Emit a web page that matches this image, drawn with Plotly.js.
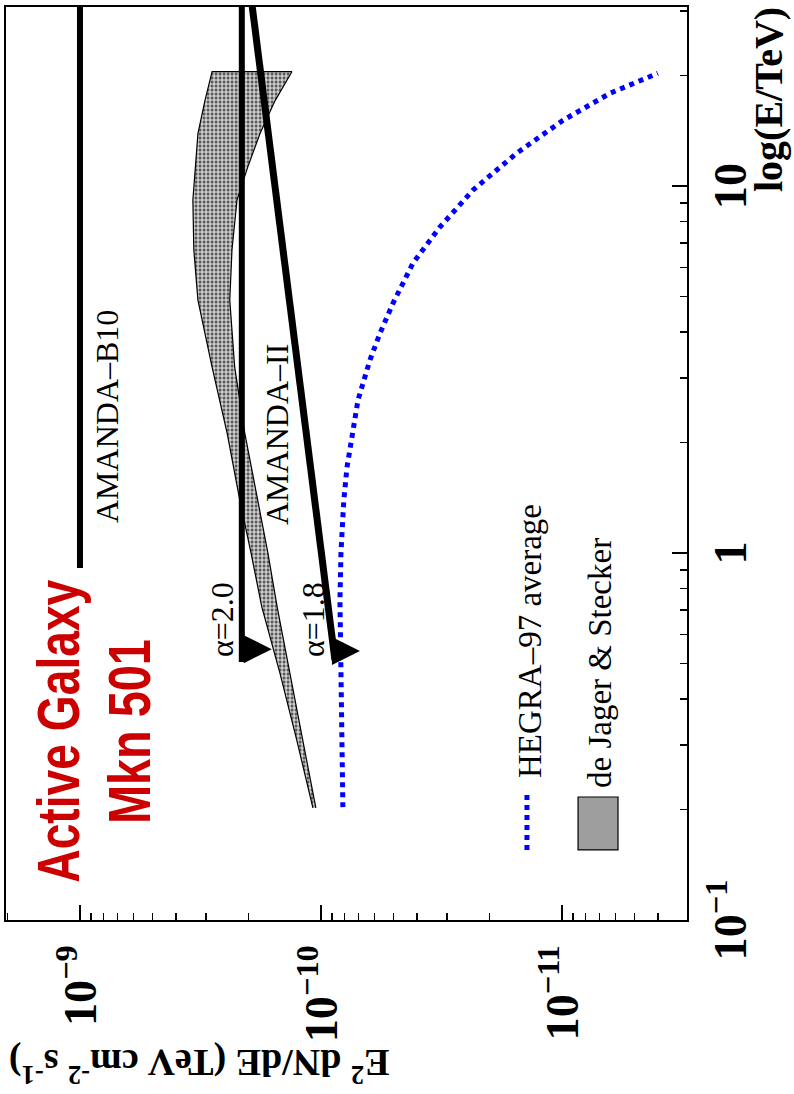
<!DOCTYPE html>
<html>
<head>
<meta charset="utf-8">
<script src="https://cdn.plot.ly/plotly-3.0.1.min.js"></script>
<style>
  html, body { margin: 0; padding: 0; background: #fff; }
  #page { position: absolute; left: 0; top: 0; width: 794px; height: 1094px; overflow: hidden; background: #fff; }
  /* the figure is laid out landscape and turned a quarter turn onto the portrait page */
  #chart { position: absolute; left: 0; top: 0; width: 1094px; height: 794px;
           transform-origin: 0 0; transform: translate(0px, 1094px) rotate(-90deg); }
</style>
</head>
<body>
<div id="page"><div id="chart"></div></div>
<script>
// Energies in TeV, fluxes as E^2 dN/dE in TeV cm^-2 s^-1

// AMANDA-B10 limit
const amandaB10E = [0.91, 31];
const amandaB10Flux = [1.0e-9, 1.0e-9];

// AMANDA-II sensitivity, spectral index 2.0
const alpha20E = [0.505, 31];
const alpha20Flux = [2.13e-10, 2.13e-10];

// AMANDA-II sensitivity, spectral index 1.8
const alpha18E = [0.511, 31];
const alpha18Flux = [8.75e-11, 1.93e-10];

// upper-limit arrow tips (alpha=2.0, alpha=1.8)
const limitE = [0.547, 0.541];
const limitFlux = [1.60e-10, 6.89e-11];

// HEGRA-97 average spectrum
const hegraE = [0.203, 0.273, 0.397, 0.541, 0.745, 1.0, 1.39, 1.71, 2.06, 2.61,
                3.36, 3.97, 4.80, 6.17, 7.73, 9.75, 12.3, 15.1, 17.9, 20.3];
const hegraFlux = [8.11e-11, 8.18e-11, 8.26e-11, 8.34e-11, 8.34e-11, 8.26e-11, 8.04e-11, 7.80e-11, 7.43e-11, 7.02e-11,
                   6.26e-11, 5.69e-11, 5.02e-11, 4.15e-11, 3.21e-11, 2.34e-11, 1.54e-11, 9.91e-12, 6.32e-12, 4.00e-12];

// de Jager & Stecker band
const deJagerE = [0.202, 0.309, 0.471, 0.713, 1.0, 1.39, 2.12, 3.21, 4.89, 6.7, 9.16, 11.3, 13.9, 17.1, 20.5];
const deJagerUpper = [1.08e-10, 1.26e-10, 1.48e-10, 1.76e-10, 1.95e-10, 2.17e-10, 2.45e-10, 2.83e-10,
                      3.24e-10, 3.37e-10, 3.40e-10, 3.33e-10, 3.24e-10, 3.03e-10, 2.83e-10];
const deJagerLower = [1.05e-10, 1.19e-10, 1.35e-10, 1.52e-10, 1.66e-10, 1.83e-10, 2.07e-10, 2.28e-10,
                      2.39e-10, 2.34e-10, 2.23e-10, 2.01e-10, 1.79e-10, 1.55e-10, 1.32e-10];

const SERIF = 'Liberation Serif, Times New Roman, serif';
const SANS = 'Liberation Sans, Arial, sans-serif';

const bandX = deJagerE.concat(deJagerE.slice().reverse());
const bandY = deJagerUpper.concat(deJagerLower.slice().reverse());

const traces = [
  { x: bandX, y: bandY, mode: 'lines', fill: 'toself',
    line: { color: '#000', width: 1.2 },
    fillcolor: '#cfcfcf',
    fillpattern: { shape: '.', fgcolor: '#5a5a5a', bgcolor: '#d2d2d2', size: 4, solidity: 0.5, fillmode: 'replace' } },
  { x: hegraE, y: hegraFlux, mode: 'lines', line: { color: '#0000ff', width: 5, dash: 'dot' } },
  { x: amandaB10E, y: amandaB10Flux, mode: 'lines', line: { color: '#000', width: 6 } },
  { x: alpha20E, y: alpha20Flux, mode: 'lines', line: { color: '#000', width: 6 } },
  { x: alpha18E, y: alpha18Flux, mode: 'lines', line: { color: '#000', width: 7 } },
  { x: limitE, y: limitFlux, mode: 'markers',
    marker: { symbol: 'arrow-down', size: 28, color: '#000', line: { width: 0 } } }
];

const axisCommon = {
  type: 'log', dtick: 1, exponentformat: 'power',
  ticks: 'inside', ticklen: 15, tickwidth: 1.5, tickcolor: '#000',
  showline: true, linecolor: '#000', linewidth: 1.8, mirror: true,
  showgrid: false, zeroline: false,
  minor: { ticks: 'inside', ticklen: 7, tickwidth: 1.5, tickcolor: '#000', dtick: 'D1', showgrid: false },
  tickfont: { family: SERIF, size: 37, color: '#000', weight: 'bold' }
};

const textFont = { family: SERIF, size: 32, color: '#000' };
const titleFont = { family: SANS, size: 60, color: '#cc0000', weight: 'bold' };

const annotations = [
  // panel title
  { x: -0.486, y: -8.909, xref: 'x', yref: 'y', text: 'Active Galaxy', showarrow: false,
    xanchor: 'center', yanchor: 'middle', font: titleFont },
  { x: -0.486, y: -9.207, xref: 'x', yref: 'y', text: 'Mkn 501', showarrow: false,
    xanchor: 'center', yanchor: 'middle', font: titleFont },
  // curve labels
  { x: 0.076, y: -9.112, xref: 'x', yref: 'y', text: 'AMANDA\u2013B10', showarrow: false,
    xanchor: 'left', yanchor: 'middle', font: textFont },
  { x: 0.071, y: -9.817, xref: 'x', yref: 'y', text: 'AMANDA\u2013II', showarrow: false,
    xanchor: 'left', yanchor: 'middle', font: textFont },
  { x: -0.29, y: -9.589, xref: 'x', yref: 'y', text: '\u03b1=2.0', showarrow: false,
    xanchor: 'left', yanchor: 'middle', font: textFont },
  { x: -0.29, y: -9.967, xref: 'x', yref: 'y', text: '\u03b1=1.8', showarrow: false,
    xanchor: 'left', yanchor: 'middle', font: textFont },
  // legend texts
  { x: 0.153, y: 0.2305, xref: 'paper', yref: 'paper', text: 'HEGRA\u201397 average', showarrow: false,
    xanchor: 'left', yanchor: 'middle', font: { family: SERIF, size: 33, color: '#000' } },
  { x: 0.1424, y: 0.1278, xref: 'paper', yref: 'paper', text: 'de Jager &amp; Stecker', showarrow: false,
    xanchor: 'left', yanchor: 'middle', font: { family: SERIF, size: 33, color: '#000' } },
  // axis titles
  { x: -0.1588, y: 0.9985, xref: 'paper', yref: 'paper', textangle: -90,
    text: 'E<sup>2</sup> dN/dE (TeV cm<sup>-2</sup> s<sup>-1</sup>)', showarrow: false,
    xanchor: 'center', yanchor: 'top', font: { family: SERIF, size: 38, color: '#000', weight: 'bold' } },
  { x: 1.0022, y: -0.119, xref: 'paper', yref: 'paper', text: 'log(E/TeV)', showarrow: false,
    xanchor: 'right', yanchor: 'middle', font: { family: SERIF, size: 40, color: '#000', weight: 'bold' } }
];

const shapes = [
  // legend keys
  { type: 'line', xref: 'paper', yref: 'paper', x0: 0.0767, x1: 0.1424, y0: 0.235, y1: 0.235,
    line: { color: '#0000ff', width: 5, dash: 'dot' } },
  { type: 'rect', xref: 'paper', yref: 'paper', x0: 0.0767, x1: 0.1347, y0: 0.1013, y1: 0.160,
    fillcolor: '#9e9e9e', line: { color: '#000', width: 1.2 } }
];

const layout = {
  width: 1094, height: 794,
  margin: { l: 174, r: 7, t: 6, b: 107 },
  paper_bgcolor: '#fff', plot_bgcolor: '#fff',
  showlegend: false,
  xaxis: Object.assign({}, axisCommon, { range: [-1, 1.488], ticklabelstandoff: 4 }),
  yaxis: Object.assign({}, axisCommon, { range: [-11.519, -8.693], ticklabelstandoff: 16 }),
  annotations: annotations,
  shapes: shapes
};

// condensed lettering for the red panel title
const condensed = { 'Active Galaxy': 303, 'Mkn 501': 185 };

Plotly.newPlot('chart', traces, layout, { displayModeBar: false, staticPlot: true }).then(function (gd) {
  gd.querySelectorAll('text.annotation-text').forEach(function (t) {
    const w = condensed[t.textContent];
    if (w) {
      t.setAttribute('textLength', w);
      t.setAttribute('lengthAdjust', 'spacingAndGlyphs');
    }
  });
});
</script>
</body>
</html>
